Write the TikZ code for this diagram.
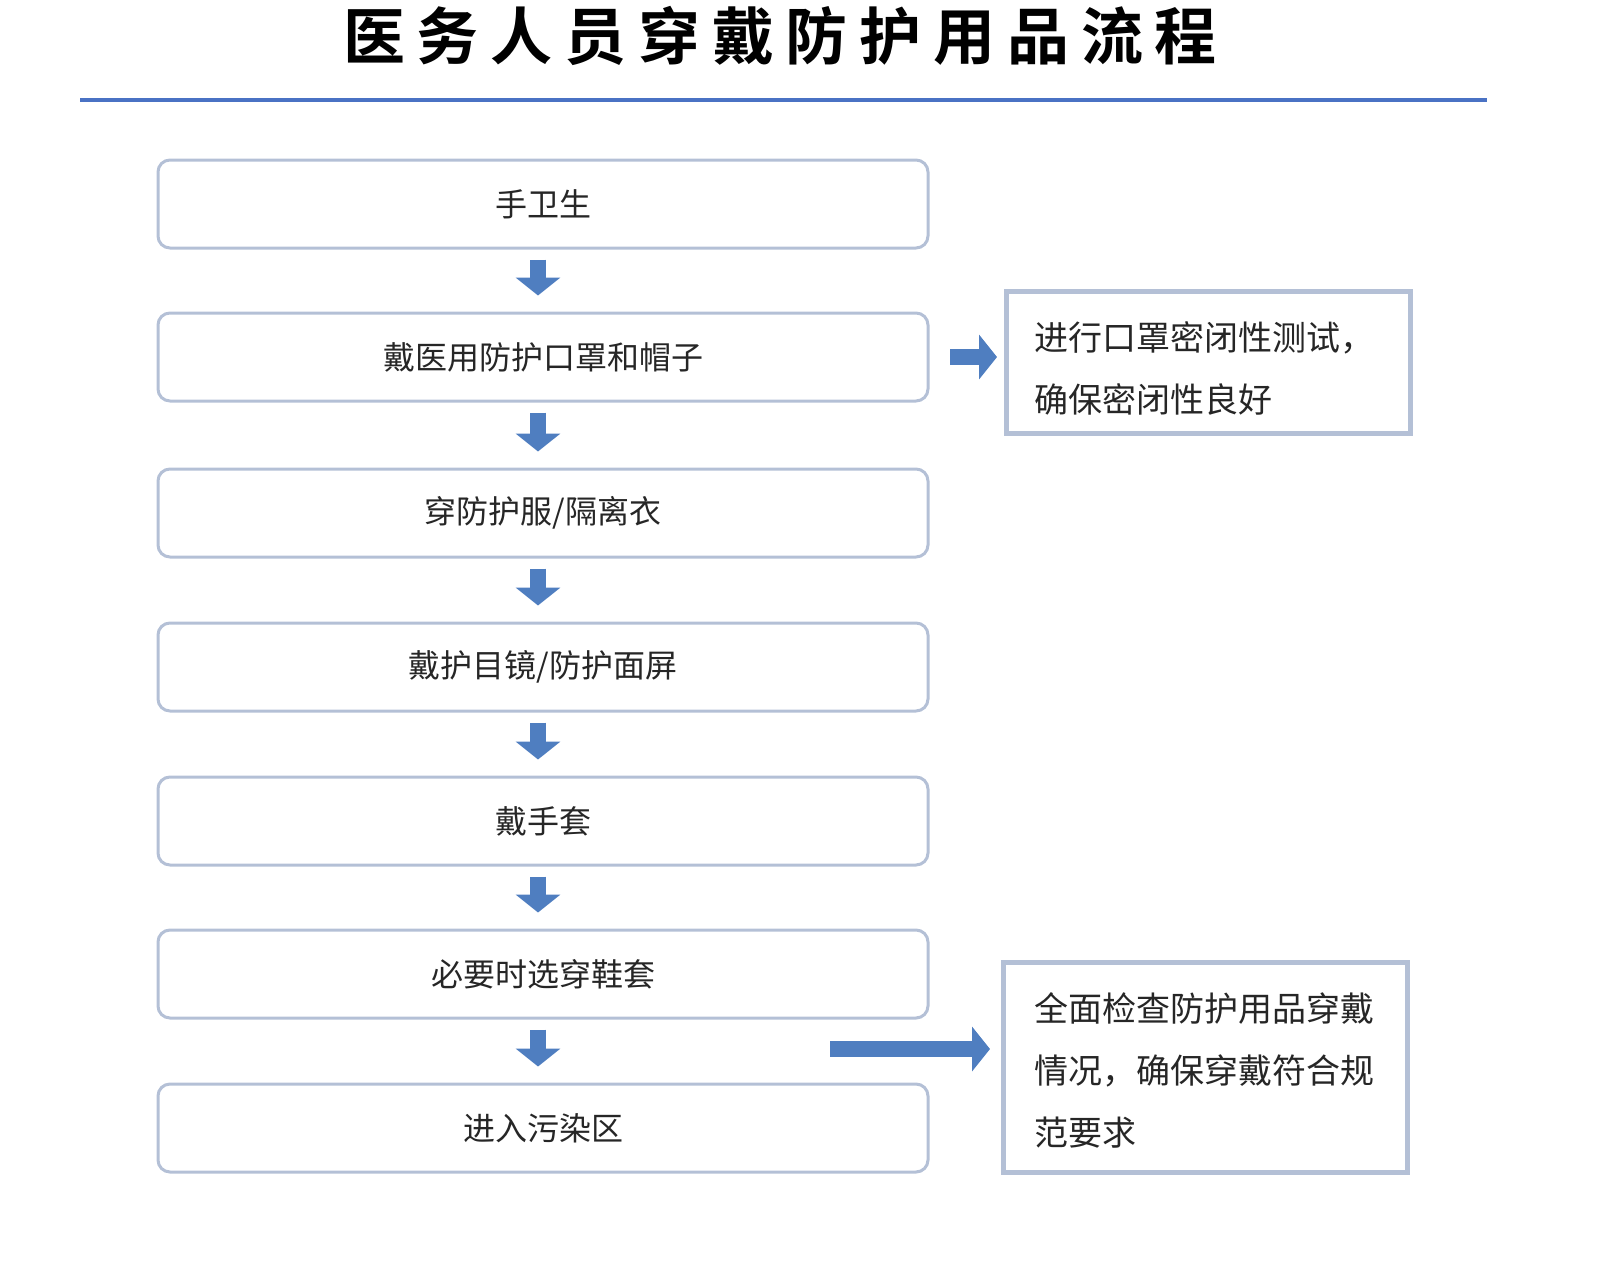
\documentclass[tikz,border=0pt]{standalone}
\usepackage{fontspec}
\setmainfont{Noto Sans CJK SC}
\newfontfamily\cjk{Noto Sans CJK SC}
\newfontfamily\cjktitle[LetterSpace=19]{Noto Sans CJK SC Bold}
\usetikzlibrary{arrows.meta}
\definecolor{boxline}{HTML}{B4C0D6}
\definecolor{arrowblue}{HTML}{4F7EC0}
\definecolor{titleline}{HTML}{4A72C4}
\begin{document}
\begin{tikzpicture}[x=0.5pt,y=-0.5pt,
  stepbox/.style={draw=boxline,line width=1.5pt,rounded corners=6pt,minimum width=385pt,minimum height=44pt,font=\cjk\fontsize{16}{18}\selectfont,text=black!85},
  downarr/.style={draw=arrowblue,line width=8pt,-{Triangle[width=22pt,length=9pt]},shorten <=5pt,shorten >=8pt},
  rightarr/.style={draw=arrowblue,line width=8pt,-{Triangle[width=22pt,length=9pt]}},
  sidetext/.style={anchor=west,font=\cjk\fontsize{17}{31}\selectfont,text=black!85,align=left}]
\useasboundingbox (0,0) rectangle (1598,1280);
\node (title) at (780,36) {\cjktitle\fontsize{31}{36}\selectfont 医务人员穿戴防护用品流程};
\coordinate (tl) at (80,100); \coordinate (tr) at (1487,100);
\draw[titleline,line width=1.6pt] (tl) -- (tr);
\node[stepbox] (b1) at (543,204) {手卫生};
\node[stepbox] (b2) at (543,357) {戴医用防护口罩和帽子};
\node[stepbox] (b3) at (543,513) {穿防护服/隔离衣};
\node[stepbox] (b4) at (543,667) {戴护目镜/防护面屏};
\node[stepbox] (b5) at (543,821) {戴手套};
\node[stepbox] (b6) at (543,974) {必要时选穿鞋套};
\node[stepbox] (b7) at (543,1128) {进入污染区};
\foreach \a/\b in {b1/b2,b2/b3,b3/b4,b4/b5,b5/b6,b6/b7}
  \draw[downarr] ([xshift=-2.5pt]\a.south) -- ([xshift=-2.5pt]\b.north);
\node[draw=boxline,line width=2.5pt,minimum width=202pt,minimum height=71pt] (s1) at (1208,362) {};
\node[sidetext] (s1t) at (1027,368) {进行口罩密闭性测试，\\确保密闭性良好};
\node[draw=boxline,line width=2.5pt,minimum width=202pt,minimum height=105pt] (s2) at (1205,1067) {};
\node[sidetext] (s2t) at (1027,1070) {全面检查防护用品穿戴\\情况，确保穿戴符合规\\范要求};
\coordinate (a1) at (950,357); \coordinate (a1e) at (997,357);
\draw[rightarr] (a1) -- (a1e);
\coordinate (a2) at (830,1049); \coordinate (a2e) at (990,1049);
\draw[rightarr] (a2) -- (a2e);
\end{tikzpicture}
\end{document}
